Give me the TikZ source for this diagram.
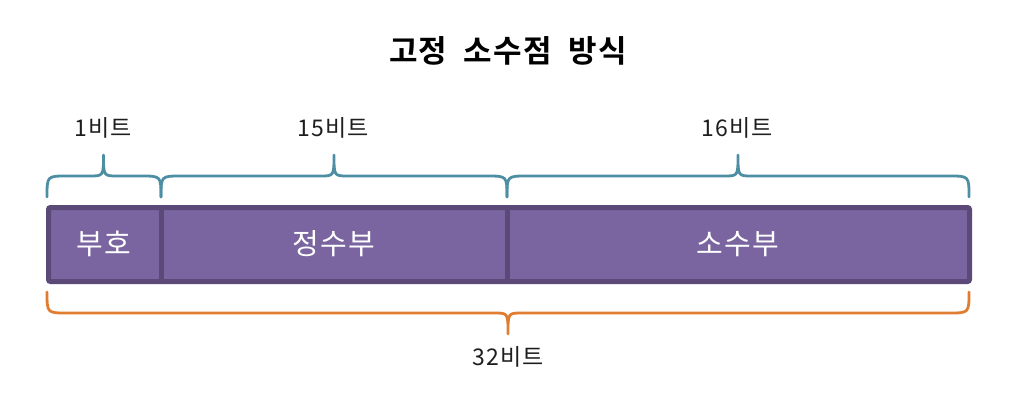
\documentclass[tikz,border=0pt]{standalone}
\usepackage{fontspec}
\setmainfont{Noto Sans CJK KR}
\newfontfamily\kofont{Noto Sans CJK KR}
\newfontfamily\kobold[WordSpace=2,LetterSpace=4]{Noto Sans CJK KR Bold}
\newfontfamily\kowide[LetterSpace=5]{Noto Sans CJK KR}
\definecolor{boxfill}{HTML}{7A65A0}
\definecolor{boxline}{HTML}{5B4A78}
\definecolor{bracetop}{HTML}{4D8EA3}
\definecolor{bracebot}{HTML}{E07D30}
\definecolor{labeltext}{HTML}{1E1E1E}
\newcommand{\mybrace}[7]{% x0, x1, xm, yend, yline, ytip, style
  \draw[#7] (#1,#4) .. controls (#1,#5) .. (#1+20,#5) -- (#3-14,#5)
     .. controls (#3,#5) .. (#3,#6)
     .. controls (#3,#5) .. (#3+14,#5) -- (#2-20,#5)
     .. controls (#2,#5) .. (#2,#4);}
\begin{document}
\begin{tikzpicture}[x=1pt,y=-1pt,
  lbl/.style={font=\kowide\fontsize{23}{26}\selectfont, text=labeltext},
  cell/.style={font=\kowide\fontsize{29}{32}\selectfont, text=white},
  bracet/.style={draw=bracetop, line width=2.8pt, line cap=round, line join=round},
  braceb/.style={draw=bracebot, line width=2.8pt, line cap=round, line join=round}]
\useasboundingbox (0,0) rectangle (1032,406);
\node[font=\kobold\fontsize{31}{34}\selectfont, text=black] (title) at (508,51) {고정 소수점 방식};
% box
\draw[fill=boxfill, draw=boxline, line width=5pt, rounded corners=2pt] (48.5,207.5) rectangle (969.5,281.5);
\draw[draw=boxline, line width=5pt] (161,207.5) -- (161,281.5);
\draw[draw=boxline, line width=5pt] (507,207.5) -- (507,281.5);
\node[cell] (sign) at (104,244) {부호};
\node[cell] (int) at (334,244) {정수부};
\node[cell] (frac) at (738,244) {소수부};
% top braces
\mybrace{47}{161}{103.5}{197}{176}{155}{bracet}
\mybrace{161}{507}{334}{197}{176}{155}{bracet}
\mybrace{507}{969}{738}{197}{176}{155}{bracet}
% bottom brace
\mybrace{47}{969}{508}{292}{313}{334}{braceb}
\node[lbl] (l1) at (103,128) {1비트};
\node[lbl] (l2) at (333,128) {15비트};
\node[lbl] (l3) at (737,128) {16비트};
\node[lbl] (l4) at (508,357) {32비트};
\end{tikzpicture}
\end{document}
